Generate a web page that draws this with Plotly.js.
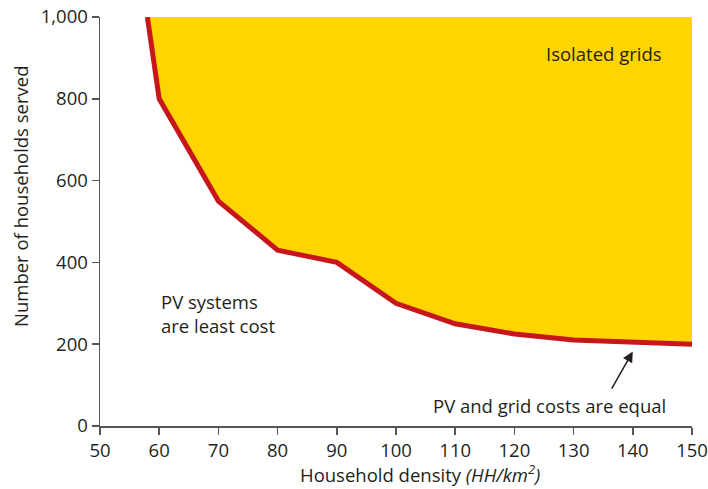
<!DOCTYPE html>
<html>
<head>
<meta charset="utf-8">
<script src="https://cdn.plot.ly/plotly-3.0.1.min.js"></script>
<style>html,body{margin:0;padding:0;background:#fff;}#chart{width:708px;height:489px;}</style>
</head>
<body>
<div id="chart"></div>
<script>
const density = [58, 60, 70, 80, 90, 100, 110, 120, 130, 140, 150];
const households = [1000, 800, 550, 430, 400, 300, 250, 225, 210, 205, 200];
const topLimit = [1000, 1000, 1000, 1000, 1000, 1000, 1000, 1000, 1000, 1000, 1000];
const xTicks = [50, 60, 70, 80, 90, 100, 110, 120, 130, 140, 150];
const yTicks = [0, 200, 400, 600, 800, 1000];

const font = "'Open Sans', 'Noto Sans', sans-serif";
const textColor = '#231f20';
const fs = 18.5;

const traces = [
  {x: density, y: topLimit, mode: 'lines', line: {width: 0, color: 'rgba(0,0,0,0)'}, hoverinfo: 'skip', showlegend: false},
  {x: density, y: households, mode: 'lines', fill: 'tonexty', fillcolor: '#FFD400',
   line: {color: '#C8161D', width: 5}, showlegend: false}
];

const layout = {
  width: 708, height: 489,
  margin: {l: 100, r: 16, t: 17, b: 63},
  paper_bgcolor: '#fff', plot_bgcolor: '#fff',
  font: {family: font, size: fs, color: textColor},
  showlegend: false,
  xaxis: {
    range: [50, 150], tickvals: xTicks, ticktext: xTicks.map(String),
    showgrid: false, zeroline: false, showline: true, linecolor: '#555', linewidth: 1.5,
    ticks: 'outside', ticklen: 7, tickcolor: '#555', tickwidth: 1.5,
    tickfont: {family: font, size: fs, color: textColor}
  },
  yaxis: {
    range: [0, 1000], tickvals: yTicks, ticktext: yTicks.map(v => v.toLocaleString('en-US')),
    showgrid: false, zeroline: false, showline: true, linecolor: '#555', linewidth: 1.5,
    ticks: 'outside', ticklen: 7, tickcolor: '#555', tickwidth: 1.5,
    tickfont: {family: font, size: fs, color: textColor}
  },
  annotations: [
    {x: 383 / 708, y: 0, xref: 'paper', yref: 'paper', yshift: -32, text: 'Household density <i>(HH/km<sup>2</sup>)</i>',
     showarrow: false, xanchor: 'center', yanchor: 'top', font: {family: font, size: fs, color: textColor}},
    {x: 0, y: (426 - 197) / 409, xref: 'paper', yref: 'paper', xshift: -80, text: 'Number of households served',
     showarrow: false, textangle: -90, xanchor: 'center', yanchor: 'middle', font: {family: font, size: fs, color: textColor}},
    {x: 135.1, y: 910, xref: 'x', yref: 'y', text: 'Isolated grids', showarrow: false,
     font: {family: font, size: fs, color: textColor}, xanchor: 'center'},
    {x: 59.9, y: 275, xref: 'x', yref: 'y', text: 'PV systems<br>are least cost', showarrow: false,
     align: 'left', xanchor: 'left', font: {family: font, size: fs, color: textColor}},
    {x: 126, y: 50, xref: 'x', yref: 'y', text: 'PV and grid costs are equal', showarrow: false,
     xanchor: 'center', font: {family: font, size: fs, color: textColor}},
    {x: 140, y: 182, ax: 136.3, ay: 88, xref: 'x', yref: 'y', axref: 'x', ayref: 'y', text: '',
     showarrow: true, arrowhead: 2, arrowsize: 1.4, arrowwidth: 1.5, arrowcolor: textColor}
  ]
};

Plotly.newPlot('chart', traces, layout, {displayModeBar: false, staticPlot: true});
</script>
</body>
</html>
